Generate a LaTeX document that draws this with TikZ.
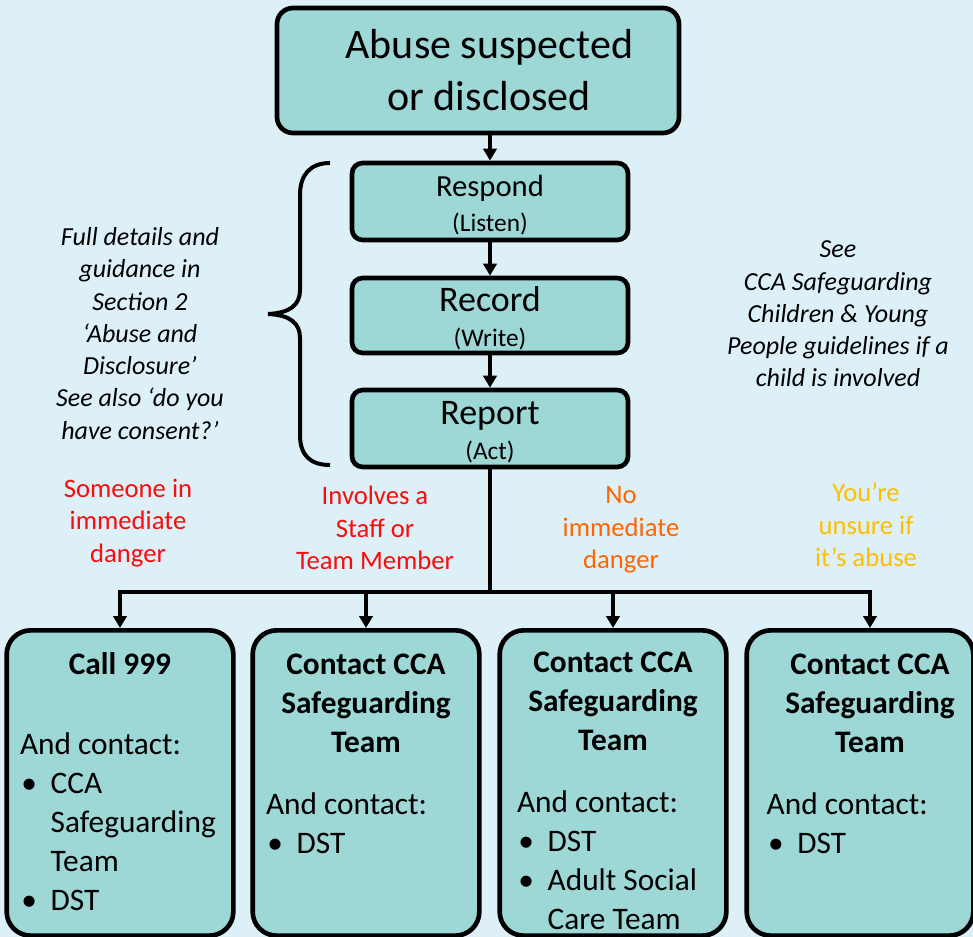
\documentclass[tikz,border=0pt]{standalone}
\usepackage{fontspec}
\setmainfont{Carlito}
\usepackage{tikz}
\usetikzlibrary{arrows.meta}

\definecolor{paleblue}{RGB}{221,240,248}
\definecolor{boxteal}{RGB}{157,215,214}
\definecolor{dangerred}{RGB}{250,12,12}
\definecolor{calmorange}{RGB}{255,102,0}
\definecolor{unsureyellow}{RGB}{255,190,0}

\newcommand\bul[1]{\par\hangindent=23pt\hangafter=1\noindent\makebox[23pt][l]{\hspace{1pt}\textbullet}#1}

\begin{document}
\begin{tikzpicture}[x=0.75pt,y=-0.75pt,
        stepbox/.style={draw,line width=3.5pt,fill=boxteal,rounded corners=8pt,align=center,inner sep=0pt},
        lowbox/.style={draw,line width=3.5pt,fill=boxteal,rounded corners=18pt,anchor=north,inner xsep=10pt,inner ysep=0pt,font=\fontsize{23.5}{29.3}\selectfont},
        flow/.style={line width=3pt,-{Triangle[length=9pt,width=10pt]}},
        note/.style={align=center,font=\fontsize{19.5}{24.2}\selectfont\itshape},
        case/.style={align=center,font=\fontsize{20}{24.4}\selectfont}]

        \useasboundingbox (0,0) rectangle (973,937);
        \fill[paleblue] (0,0) rectangle (973,937);
        \clip (0,0) rectangle (973,937);

        \node[stepbox,minimum width=301.5pt,minimum height=93.75pt,rounded corners=12pt,font=\fontsize{31.5}{39}\selectfont] (abuse) at (478,70.5) {\hspace*{17pt}Abuse suspected\\\hspace*{17pt}or disclosed};
        \node[stepbox,minimum width=207pt,minimum height=57.75pt,font=\fontsize{23}{26}\selectfont] (respond) at (490,201.5) {\rule{0pt}{21pt}Respond\\{\fontsize{19}{26}\selectfont(Listen)}};
        \node[stepbox,minimum width=207pt,minimum height=56.25pt,font=\fontsize{27}{26}\selectfont] (record) at (490,315.5) {\rule{0pt}{23pt}Record\\{\fontsize{19}{26}\selectfont(Write)}};
        \node[stepbox,minimum width=207pt,minimum height=57.75pt,font=\fontsize{27}{26}\selectfont] (report) at (490,428.5) {\rule{0pt}{23pt}Report\\{\fontsize{19}{26}\selectfont(Act)}};

        \draw[flow] (abuse.south -| respond.north) -- (respond.north);
        \draw[flow] (respond) -- (record);
        \draw[flow] (record) -- (report);

        \draw[line width=3pt] (330,163) .. controls (310,163) and (300,175) .. (300,195) -- (300,290) .. controls (300,305) and (290,313) .. (268,314) .. controls (290,315) and (300,323) .. (300,338) -- (300,435) .. controls (300,455) and (310,465) .. (330,465);

        \node[note] (details) at (140,333.5) {Full details and\\guidance in\\Section 2\\‘Abuse and\\Disclosure’\\See also ‘do you\\have consent?’};
        \node[note] (guidelines) at (838,314) {See\\CCA Safeguarding\\Children \& Young\\People guidelines if a\\child is involved};

        \node[case,text=dangerred] (danger) at (128,523) {Someone in\\immediate\\danger};
        \node[case,text=dangerred] (member) at (375,528) {Involves a\\Staff or\\Team Member};
        \node[case,text=calmorange] (calm) at (621,530) {No\\immediate\\danger};
        \node[case,text=unsureyellow] (unsure) at (866,525) {You’re\\unsure if\\it’s abuse};

        \node[lowbox] (call) at (120,628) {\parbox[c][229pt][t]{150pt}{\centering\rule{0pt}{33pt}\textbf{Call 999}\par\vspace{30.7pt}\raggedright And contact:\bul{CCA\newline Safeguarding\newline Team}\bul{DST}}};
        \node[lowbox] (contacta) at (366,628) {\parbox[c][229pt][t]{150pt}{\centering\rule{0pt}{33pt}\textbf{Contact CCA\\Safeguarding\\Team}\par\vspace{17pt}\raggedright And contact:\bul{DST}}};
        \node[lowbox] (contactb) at (613,628) {\parbox[c][229pt][t]{150pt}{\centering\rule{0pt}{31.5pt}\textbf{Contact CCA\\Safeguarding\\Team}\par\vspace{17pt}\raggedright\leftskip=3pt And contact:\bul{DST}\bul{Adult Social\newline Care Team}}};
        \node[lowbox] (contactc) at (860,628) {\parbox[c][229pt][t]{150pt}{\centering\leftskip=15pt plus 1fil\rule{0pt}{33pt}\textbf{Contact CCA\\Safeguarding\\Team}\par\vspace{17pt}\raggedright\leftskip=5pt And contact:\bul{DST}}};

        \coordinate (bus) at (490,592);
        \coordinate (drop) at ([xshift=7.5pt]contactc.north);
        \draw[line width=3pt] (report) -- (bus);
        \draw[line width=3pt,line cap=rect] (bus -| call.north) -- (bus -| drop);
        \foreach \b in {call,contacta,contactb}
                \draw[flow] (bus -| \b.north) -- (\b.north);
        \draw[flow] (bus -| drop) -- (drop);

\end{tikzpicture}
\end{document}
